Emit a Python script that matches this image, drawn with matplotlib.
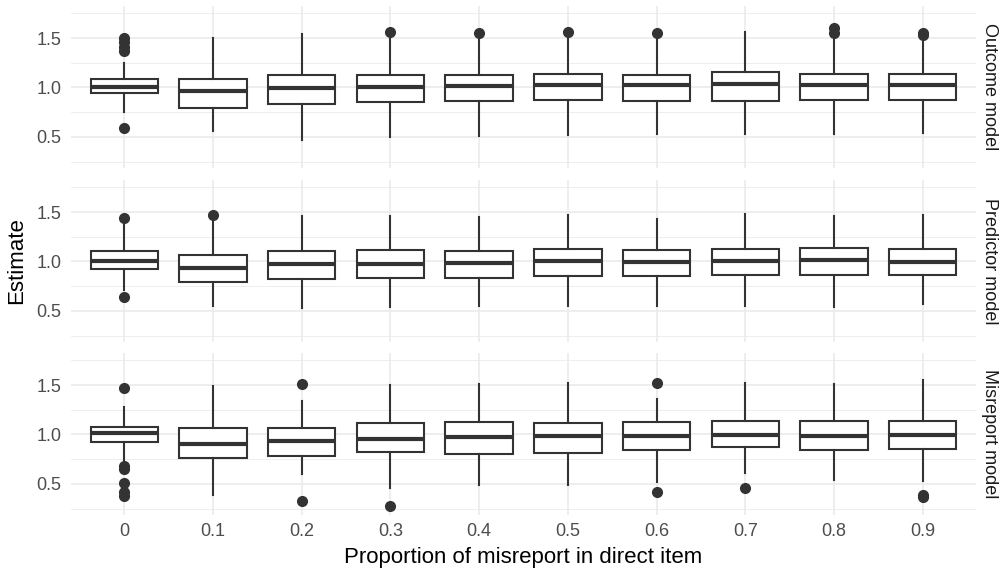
import matplotlib
matplotlib.use('Agg')
import matplotlib.pyplot as plt

plt.rcParams['font.family'] = ['Liberation Sans', 'DejaVu Sans']

# Kategorier (andel feilrapportering)
kategorier = ['0', '0.1', '0.2', '0.3', '0.4', '0.5', '0.6', '0.7', '0.8', '0.9']
paneler = ['Outcome model', 'Predictor model', 'Misreport model']

# Outcome model
outcome_med = [1.010, 0.963, 0.990, 1.003, 1.020, 1.030, 1.027, 1.037, 1.030, 1.024]
outcome_q1 = [0.942, 0.796, 0.830, 0.850, 0.867, 0.871, 0.867, 0.867, 0.878, 0.874]
outcome_q3 = [1.085, 1.085, 1.122, 1.122, 1.126, 1.136, 1.126, 1.153, 1.139, 1.136]
outcome_lo = [0.755, 0.561, 0.466, 0.500, 0.510, 0.517, 0.527, 0.527, 0.527, 0.537]
outcome_hi = [1.250, 1.497, 1.537, 1.490, 1.510, 1.497, 1.490, 1.560, 1.490, 1.500]
outcome_out = [[1.503, 1.460, 1.410, 1.370, 0.590], [], [], [1.560], [1.550],
               [1.558], [1.554], [], [1.599, 1.548], [1.555, 1.530]]

# Predictor model
pred_med = [1.003, 0.936, 0.976, 0.970, 0.986, 1.000, 0.990, 1.000, 1.014, 0.990]
pred_q1 = [0.929, 0.797, 0.820, 0.830, 0.837, 0.854, 0.854, 0.864, 0.861, 0.861]
pred_q3 = [1.108, 1.064, 1.102, 1.112, 1.108, 1.125, 1.119, 1.129, 1.132, 1.122]
pred_lo = [0.712, 0.553, 0.525, 0.542, 0.553, 0.553, 0.553, 0.553, 0.542, 0.566]
pred_hi = [1.373, 1.407, 1.458, 1.458, 1.450, 1.468, 1.434, 1.485, 1.458, 1.475]
pred_out = [[1.440, 0.644], [1.475], [], [], [], [], [], [], [], []]

# Misreport model
mis_med = [1.020, 0.908, 0.932, 0.956, 0.973, 0.980, 0.980, 0.993, 0.983, 0.993]
mis_q1 = [0.919, 0.759, 0.780, 0.827, 0.800, 0.817, 0.844, 0.871, 0.844, 0.854]
mis_q3 = [1.075, 1.061, 1.064, 1.115, 1.122, 1.115, 1.122, 1.139, 1.136, 1.139]
mis_lo = [0.736, 0.390, 0.600, 0.460, 0.490, 0.488, 0.515, 0.607, 0.542, 0.525]
mis_hi = [1.278, 1.490, 1.339, 1.498, 1.515, 1.525, 1.363, 1.525, 1.515, 1.556]
mis_out = [[1.475, 0.686, 0.652, 0.510, 0.415, 0.380], [], [1.508, 0.329], [0.281],
           [], [], [1.525, 0.420], [0.454], [], [0.390, 0.363]]

data = [
    (outcome_med, outcome_q1, outcome_q3, outcome_lo, outcome_hi, outcome_out),
    (pred_med, pred_q1, pred_q3, pred_lo, pred_hi, pred_out),
    (mis_med, mis_q1, mis_q3, mis_lo, mis_hi, mis_out),
]

W, H = 1003, 571
fig = plt.figure(figsize=(W / 100, H / 100), dpi=100)

linjefarge = '#333333'
panel_px = [(6, 168), (180, 342), (353, 515)]
left, right = 71, 976

for i, (navn, (med, q1, q3, lo, hi, out)) in enumerate(zip(paneler, data)):
    topp, bunn = panel_px[i]
    ax = fig.add_axes([left / W, 1 - bunn / H, (right - left) / W, (bunn - topp) / H])
    stats = []
    for k in range(len(kategorier)):
        stats.append({'med': med[k], 'q1': q1[k], 'q3': q3[k],
                      'whislo': lo[k], 'whishi': hi[k], 'fliers': out[k]})
    ax.bxp(stats, positions=range(len(kategorier)), widths=0.76, showcaps=False,
           patch_artist=True,
           boxprops=dict(facecolor='white', edgecolor=linjefarge, linewidth=1.5),
           medianprops=dict(color=linjefarge, linewidth=3.0, solid_capstyle='butt'),
           whiskerprops=dict(color=linjefarge, linewidth=1.5),
           flierprops=dict(marker='o', markerfacecolor=linjefarge,
                           markeredgecolor=linjefarge, markersize=7))
    ax.set_xlim(-0.6, 9.6)
    ax.set_ylim(0.185, 1.825)
    ax.set_yticks([0.5, 1.0, 1.5])
    ax.set_yticklabels(['0.5', '1.0', '1.5'])
    ax.set_yticks([0.25, 0.75, 1.25, 1.75], minor=True)
    ax.set_xticks(range(len(kategorier)))
    if i == 2:
        ax.set_xticklabels(kategorier)
    else:
        ax.set_xticklabels([])
    ax.set_axisbelow(True)
    ax.grid(which='major', color='#EBEBEB', linewidth=1.2)
    ax.grid(which='minor', axis='y', color='#EBEBEB', linewidth=0.6)
    ax.tick_params(which='both', length=0, labelsize=13, labelcolor='#4D4D4D')
    ax.tick_params(axis='y', pad=7)
    ax.tick_params(axis='x', pad=6)
    for s in ax.spines.values():
        s.set_visible(False)
    ax.patch.set_alpha(0)
    fig.text(990 / W, 1 - (topp + bunn) / 2 / H, navn, rotation=-90,
             ha='center', va='center', fontsize=13, color='#1A1A1A')

fig.text(17 / W, 1 - 261 / H, 'Estimate', rotation=90, ha='center', va='center',
         fontsize=16, color='black')
fig.text((left + right) / 2 / W, 1 - 557 / H, 'Proportion of misreport in direct item',
         ha='center', va='center', fontsize=16, color='black')

fig.savefig('out.png', dpi=100, facecolor='white')
